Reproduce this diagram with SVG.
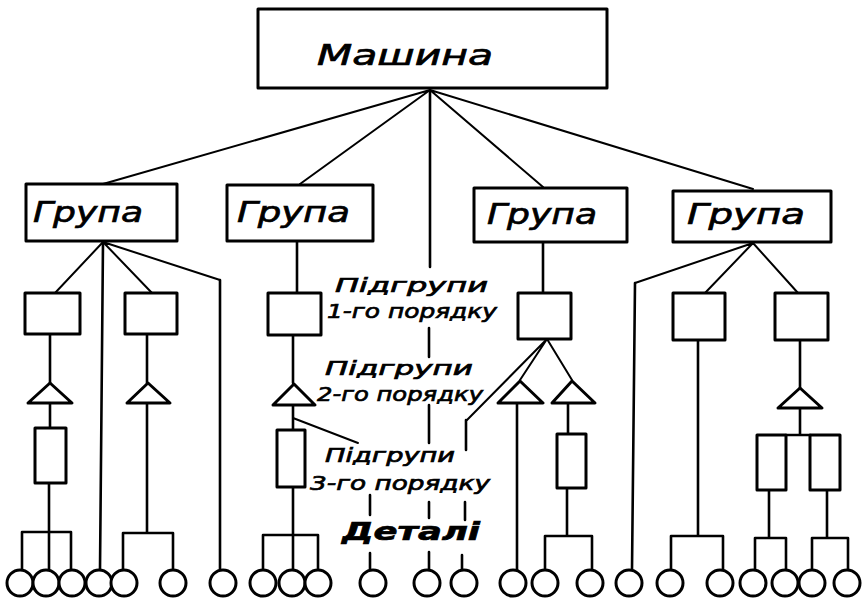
<svg xmlns="http://www.w3.org/2000/svg" width="866" height="603" viewBox="0 0 866 603">
<style>
.bx{fill:#fff;stroke:#000;stroke-width:3;stroke-linejoin:round}
.ln{fill:none;stroke:#000;stroke-width:2.6;stroke-linecap:round;stroke-linejoin:round}
.tl{fill:none;stroke:#000;stroke-width:2;stroke-linecap:round}
.c{fill:#fff;stroke:#000;stroke-width:3}
.t{font-family:"DejaVu Sans","Liberation Sans",sans-serif;font-style:italic;fill:#000;stroke:#000;stroke-width:0.7}
.g{font-size:29px}
.l{font-size:20px}
</style>
<rect width="866" height="603" fill="#fff"/>
<g id="connectors">
  <path class="tl" d="M430 90 L103 184 M430 90 L300 184 M430 90 L543 187 M430 90 L753 189"/>
  <path class="ln" d="M430 90 V267 M429 328 V357 M429 405 V443 M429 502 V518 M429 552 V570"/>
  <path class="tl" d="M103 242 L55 293 M103 242 L152 293 M103 242 L220 280"/>
  <path class="ln" d="M103 242 L100 570 M220 280 V570"/>
  <path class="ln" d="M50 334 V383 M50 403 V428 M49 483 V532 M22 532 H71 M22 532 V570 M71 532 V570 M49 532 V570"/>
  <path class="ln" d="M147 334 V383 M147 403 V533 M123 533 H173 M123 533 V570 M173 533 V570"/>
  <path class="ln" d="M297 241 V293 M293 335 V383 M293 405 V430 M293 487 V535 M263 535 H318 M263 535 V570 M293 535 V570 M318 535 V570"/>
  <path class="tl" d="M293 418 L358 443"/>
  <path class="ln" d="M543 242 V293"/>
  <path class="tl" d="M547 339 L520 380 M547 339 L572 380 M547 339 L467 420"/>
  <path class="ln" d="M466 420 V450 M465 502 V520 M462 555 V570 M370 495 V515 M370 553 V570"/>
  <path class="ln" d="M517 403 V570 M568 403 V434 M567 488 V536 M545 536 H592 M545 536 V570 M592 536 V570"/>
  <path class="tl" d="M753 243 L635 283 M753 243 L705 293 M753 243 L798 293"/>
  <path class="ln" d="M635 283 L632 570 M698 340 V536 M671 536 H723 M671 536 V570 M723 536 V570"/>
  <path class="ln" d="M800 340 V388 M800 408 V435 M786 435 H810 M769 490 V538 M755 538 H786 M755 538 V570 M786 538 V570 M827 490 V538 M812 538 H848 M812 538 V570 M848 538 V570"/>
</g>
<g id="machine">
  <rect class="bx" x="258" y="9" width="349" height="79"/>
  <text class="t" x="317" y="65" font-size="28" textLength="176" lengthAdjust="spacingAndGlyphs">Машина</text>
</g>
<g id="group1">
  <rect class="bx" x="26" y="184" width="151" height="57"/>
  <text class="t g" x="33" y="222" textLength="110" lengthAdjust="spacingAndGlyphs">Група</text>
</g>
<g id="group2">
  <rect class="bx" x="227" y="185" width="146" height="56"/>
  <text class="t g" x="237" y="222" textLength="113" lengthAdjust="spacingAndGlyphs">Група</text>
</g>
<g id="group3">
  <rect class="bx" x="474" y="188" width="153" height="54"/>
  <text class="t g" x="487" y="224" textLength="110" lengthAdjust="spacingAndGlyphs">Група</text>
</g>
<g id="group4">
  <rect class="bx" x="673" y="191" width="158" height="51"/>
  <text class="t g" x="687" y="224" textLength="118" lengthAdjust="spacingAndGlyphs">Група</text>
</g>
<g id="sg1a"><rect class="bx" x="25" y="293" width="55" height="41"/></g>
<g id="sg1b"><rect class="bx" x="125" y="293" width="52" height="41"/></g>
<g id="sg2a"><rect class="bx" x="268" y="293" width="53" height="42"/></g>
<g id="sg3a"><rect class="bx" x="518" y="293" width="53" height="46"/></g>
<g id="sg4a"><rect class="bx" x="673" y="293" width="52" height="47"/></g>
<g id="sg4b"><rect class="bx" x="775" y="293" width="53" height="47"/></g>
<g id="tr1a"><polygon class="bx" points="50,383 72,403 28,403"/></g>
<g id="tr1b"><polygon class="bx" points="148,383 170,403 127,403"/></g>
<g id="tr2a"><polygon class="bx" points="294,384 315,405 273,405"/></g>
<g id="tr3a"><polygon class="bx" points="520,381 543,403 498,403"/></g>
<g id="tr3b"><polygon class="bx" points="572,381 595,403 552,403"/></g>
<g id="tr4b"><polygon class="bx" points="800,388 822,408 778,408"/></g>
<g id="r1a"><rect class="bx" x="35" y="428" width="31" height="55"/></g>
<g id="r2a"><rect class="bx" x="277" y="430" width="28" height="57"/></g>
<g id="r3b"><rect class="bx" x="557" y="434" width="29" height="54"/></g>
<g id="r4a"><rect class="bx" x="757" y="435" width="29" height="55"/></g>
<g id="r4b"><rect class="bx" x="810" y="435" width="30" height="55"/></g>
<g id="details">
  <circle class="c" cx="20" cy="583" r="13"/>
  <circle class="c" cx="46" cy="583" r="13"/>
  <circle class="c" cx="72" cy="583" r="13"/>
  <circle class="c" cx="99" cy="583" r="13"/>
  <circle class="c" cx="124" cy="583" r="13"/>
  <circle class="c" cx="173" cy="583" r="13"/>
  <circle class="c" cx="223" cy="583" r="13"/>
  <circle class="c" cx="263" cy="583" r="13"/>
  <circle class="c" cx="292" cy="583" r="13"/>
  <circle class="c" cx="318" cy="583" r="13"/>
  <circle class="c" cx="373" cy="583" r="13"/>
  <circle class="c" cx="427" cy="583" r="13"/>
  <circle class="c" cx="464" cy="583" r="13"/>
  <circle class="c" cx="513" cy="583" r="13"/>
  <circle class="c" cx="545" cy="583" r="13"/>
  <circle class="c" cx="590" cy="583" r="13"/>
  <circle class="c" cx="629" cy="583" r="13"/>
  <circle class="c" cx="670" cy="583" r="13"/>
  <circle class="c" cx="720" cy="583" r="13"/>
  <circle class="c" cx="753" cy="583" r="13"/>
  <circle class="c" cx="785" cy="583" r="13"/>
  <circle class="c" cx="812" cy="583" r="13"/>
  <circle class="c" cx="847" cy="583" r="13"/>
</g>
<g id="labels">
  <text class="t l" x="335" y="292" textLength="153" lengthAdjust="spacingAndGlyphs">Підгрупи</text>
  <text class="t l" x="327" y="318" textLength="170" lengthAdjust="spacingAndGlyphs">1-го порядку</text>
  <text class="t l" x="325" y="375" textLength="148" lengthAdjust="spacingAndGlyphs">Підгрупи</text>
  <text class="t l" x="317" y="401" textLength="166" lengthAdjust="spacingAndGlyphs">2-го порядку</text>
  <text class="t l" x="325" y="462" textLength="130" lengthAdjust="spacingAndGlyphs">Підгрупи</text>
  <text class="t l" x="310" y="490" textLength="180" lengthAdjust="spacingAndGlyphs">3-го порядку</text>
  <text class="t" x="342" y="540" font-size="25" font-weight="bold" textLength="138" lengthAdjust="spacingAndGlyphs">Деталі</text>
</g>
</svg>
